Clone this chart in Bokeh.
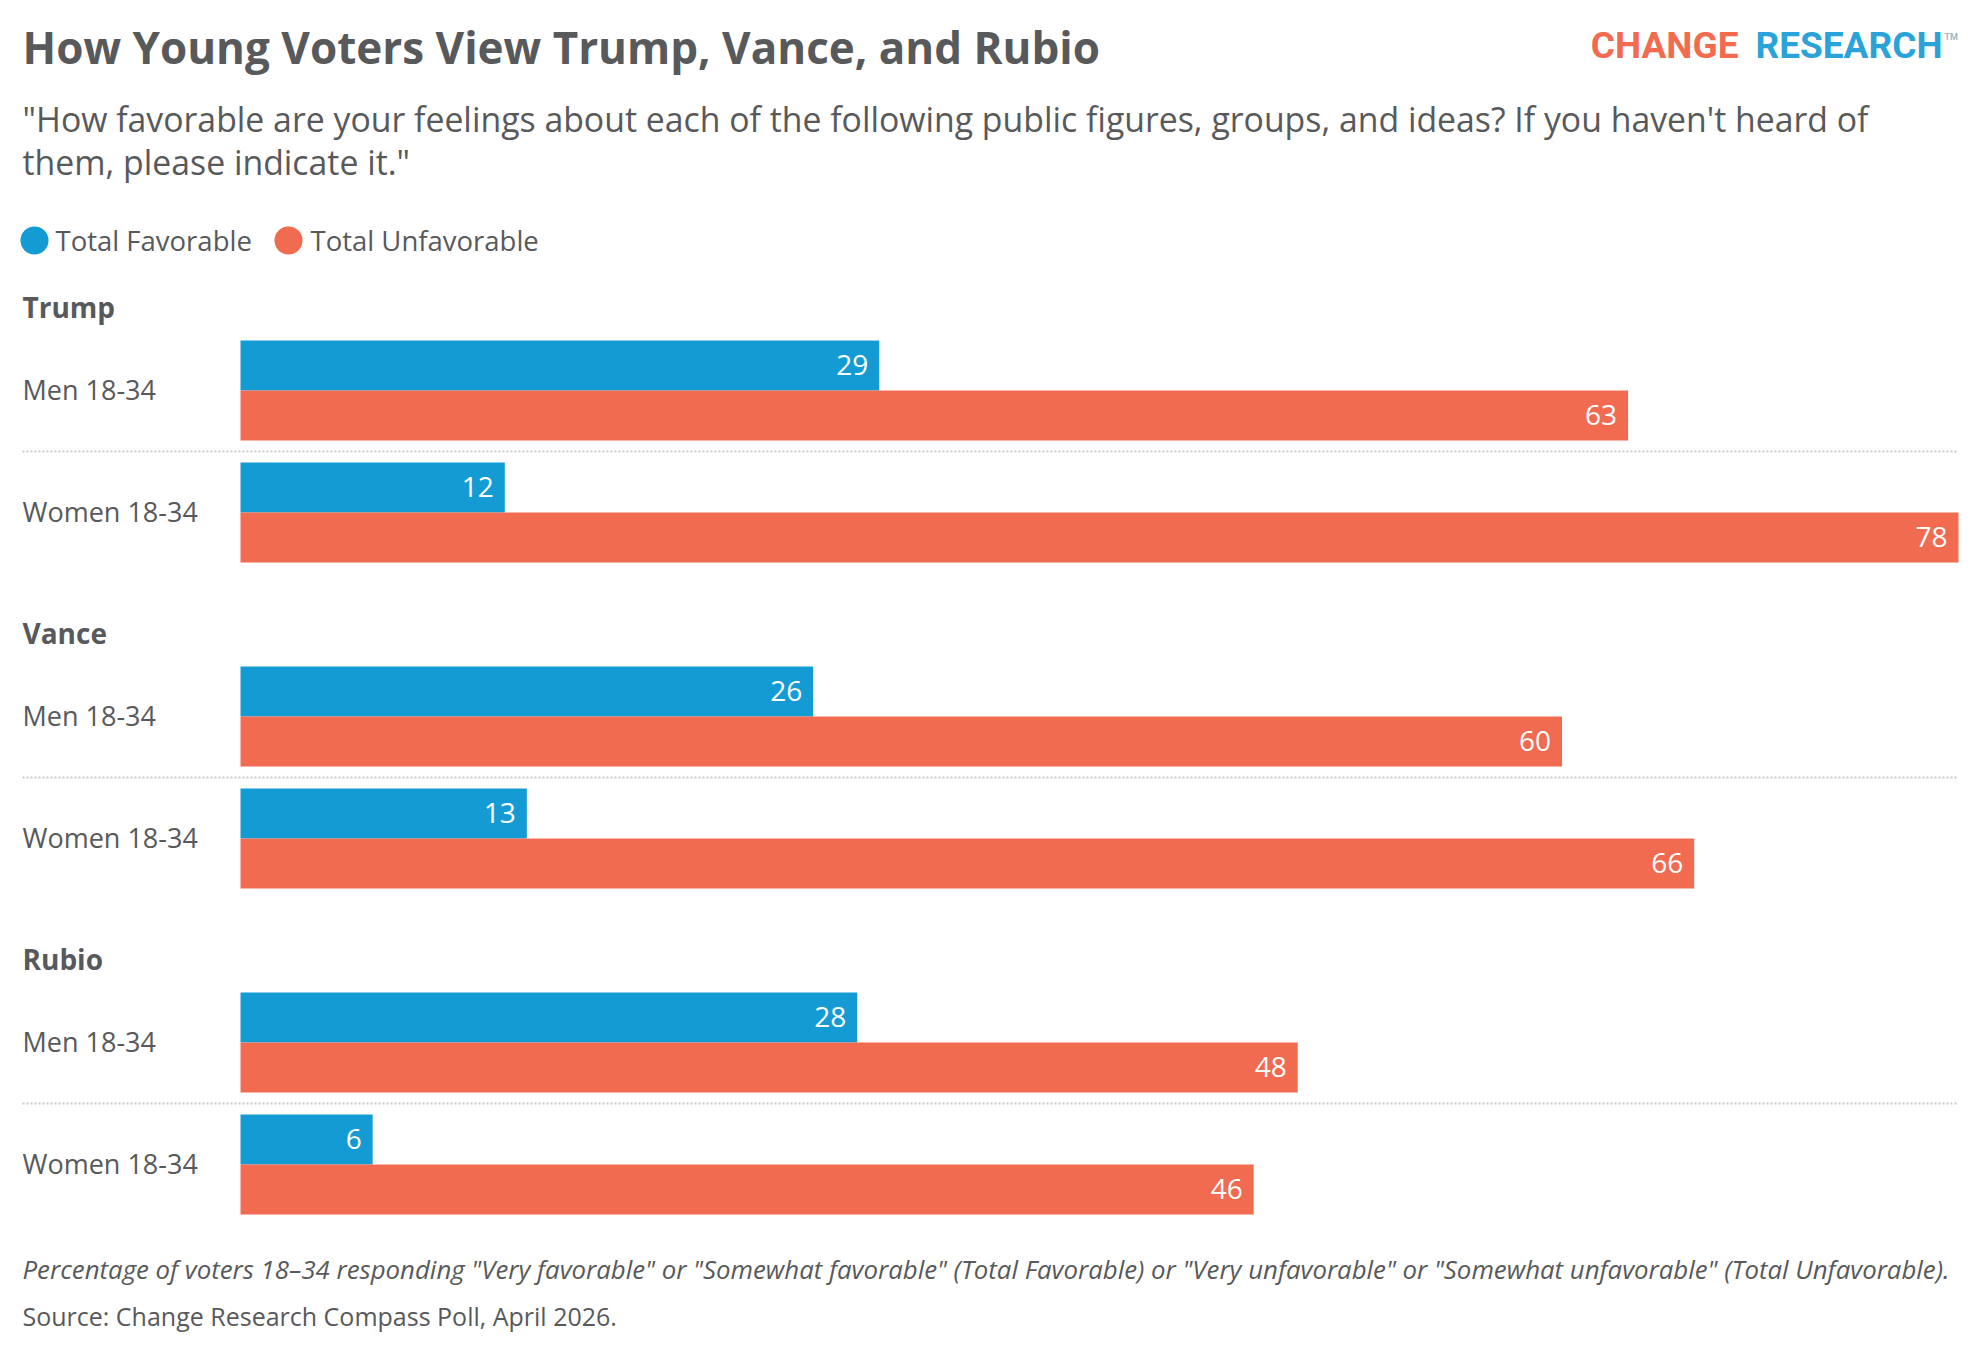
from bokeh.plotting import figure
from bokeh.models import Range1d, ColumnDataSource
from bokeh.core.properties import value
from bokeh.embed import file_html
from bokeh.resources import INLINE

# ---- data ----
politicians = ["Trump", "Vance", "Rubio"]
demographics = ["Men 18-34", "Women 18-34"]
series_names = ["Total Favorable", "Total Unfavorable"]
favorable = [29, 12, 26, 13, 28, 6]
unfavorable = [63, 78, 60, 66, 48, 46]

title_text = "How Young Voters View Trump, Vance, and Rubio"
subtitle_lines = [
    "\"How favorable are your feelings about each of the following public figures, groups, and ideas? If you haven't heard of",
    "them, please indicate it.\"",
]
footnote_text = ("Percentage of voters 18\u201334 responding \"Very favorable\" or \"Somewhat favorable\" "
                 "(Total Favorable) or \"Very unfavorable\" or \"Somewhat unfavorable\" (Total Unfavorable).")
source_text = "Source: Change Research Compass Poll, April 2026."

# ---- style ----
BLUE = "#159bd3"
ORANGE = "#f16b50"
TEXT = "#58595b"
FONT = "Open Sans"
W, H = 1964, 1340
BL = 0.38  # baseline correction (fraction of font size)


def X(px):
    return px


def TY(baseline, size):
    return baseline - BL * size


BAR_LEFT = X(240)
BAR_RIGHT_MAX = X(1958)
VMAX = 78
pxu = (BAR_RIGHT_MAX - BAR_LEFT) / VMAX

p = figure(width=W, height=H, output_backend="svg", toolbar_location=None,
           x_range=Range1d(0, W), y_range=Range1d(H, 0),
           x_axis_type=None, y_axis_type=None, min_border=0,
           outline_line_color=None)
p.grid.visible = False
p.background_fill_color = "white"
p.border_fill_color = "white"
p.extra_x_ranges = {"val": Range1d(-BAR_LEFT / pxu, (W - BAR_LEFT) / pxu)}

# layout positions computed from indices
GROUP_PITCH = 326
ROW_PITCH = 122
BAR_H = 50
FIRST_TOP = 340
VAL_SIZE = 28

ys_f, ys_u, vals_f, vals_u = [], [], [], []
for g in range(len(politicians)):
    for r in range(len(demographics)):
        i = g * len(demographics) + r
        top = FIRST_TOP + g * GROUP_PITCH + r * ROW_PITCH
        ys_f.append(top + BAR_H / 2)
        ys_u.append(top + BAR_H + BAR_H / 2)
        vals_f.append(favorable[i])
        vals_u.append(unfavorable[i])

src_f = ColumnDataSource(dict(y=ys_f, v=vals_f, lab=[str(v) for v in vals_f],
                              ty=[TY(y + 10, VAL_SIZE) for y in ys_f]))
src_u = ColumnDataSource(dict(y=ys_u, v=vals_u, lab=[str(v) for v in vals_u],
                              ty=[TY(y + 10, VAL_SIZE) for y in ys_u]))

p.hbar(y="y", left=0, right="v", height=BAR_H, source=src_f, x_range_name="val",
       fill_color=BLUE, line_color=None)
p.hbar(y="y", left=0, right="v", height=BAR_H, source=src_u, x_range_name="val",
       fill_color=ORANGE, line_color=None)

for src in (src_f, src_u):
    p.text(x="v", y="ty", text="lab", source=src, x_range_name="val",
           x_offset=-11, text_align="right", text_baseline="alphabetic",
           text_color="white", text_font=value(FONT), text_font_size=f"{VAL_SIZE}px")

# separators between demographics
for g in range(len(politicians)):
    sy = 451 + g * GROUP_PITCH
    p.segment(x0=X(22), y0=sy, x1=X(1958), y1=sy, line_color="#c9c9c9",
              line_width=2, line_dash="2 2")

# group headers and row labels
for g, name in enumerate(politicians):
    p.text(x=[X(22)], y=[TY(317 + g * GROUP_PITCH, 28)], text=[name],
           text_font=value(FONT), text_font_style="bold", text_font_size="28px",
           text_color=TEXT, text_baseline="alphabetic")
    for r, d in enumerate(demographics):
        p.text(x=[X(22)], y=[TY(399 + g * GROUP_PITCH + r * ROW_PITCH, 27)], text=[d],
               text_font=value(FONT), text_font_size="27px",
               text_color=TEXT, text_baseline="alphabetic")

# title, subtitle
p.text(x=[X(22)], y=[TY(63, 44)], text=[title_text], text_font=value(FONT),
       text_font_style="bold", text_font_size="44px", text_color=TEXT,
       text_baseline="alphabetic")
for k, line in enumerate(subtitle_lines):
    p.text(x=[X(22)], y=[TY(131 + 43 * k, 33.8)], text=[line], text_font=value(FONT),
           text_font_size="33.8px", text_color=TEXT, text_baseline="alphabetic")

# logo
p.text(x=[X(1738)], y=[TY(59, 37)], text=["CHANGE"], text_font=value("Roboto"),
       text_font_style="bold", text_font_size="37px", text_color="#f26b4f",
       text_align="right", text_baseline="alphabetic")
p.text(x=[X(1942)], y=[TY(59, 37)], text=["RESEARCH"], text_font=value("Roboto"),
       text_font_style="bold", text_font_size="37px", text_color="#2aa3da",
       text_align="right", text_baseline="alphabetic")
p.text(x=[X(1944)], y=[TY(40, 9)], text=["TM"], text_font=value("Roboto"),
       text_font_style="bold", text_font_size="9px", text_color="#9fb6c4",
       text_align="left", text_baseline="alphabetic")

# legend
leg_x = [X(34), X(288)]
p.scatter(x=leg_x, y=[240, 240], marker="circle", size=28,
          fill_color=[BLUE, ORANGE], line_color=None)
p.text(x=[X(55), X(310)], y=[TY(250, 27.5), TY(250, 27.5)], text=series_names,
       text_font=value(FONT), text_font_size="27.5px", text_color=TEXT,
       text_baseline="alphabetic")

# footnotes
p.text(x=[X(22)], y=[TY(1278, 25.8)], text=[footnote_text], text_font=value(FONT),
       text_font_style="italic", text_font_size="25.8px", text_color=TEXT,
       text_baseline="alphabetic")
p.text(x=[X(22)], y=[TY(1325, 25)], text=[source_text], text_font=value(FONT),
       text_font_size="25px", text_color=TEXT, text_baseline="alphabetic")

open("out.html", "w").write(file_html(p, INLINE))
